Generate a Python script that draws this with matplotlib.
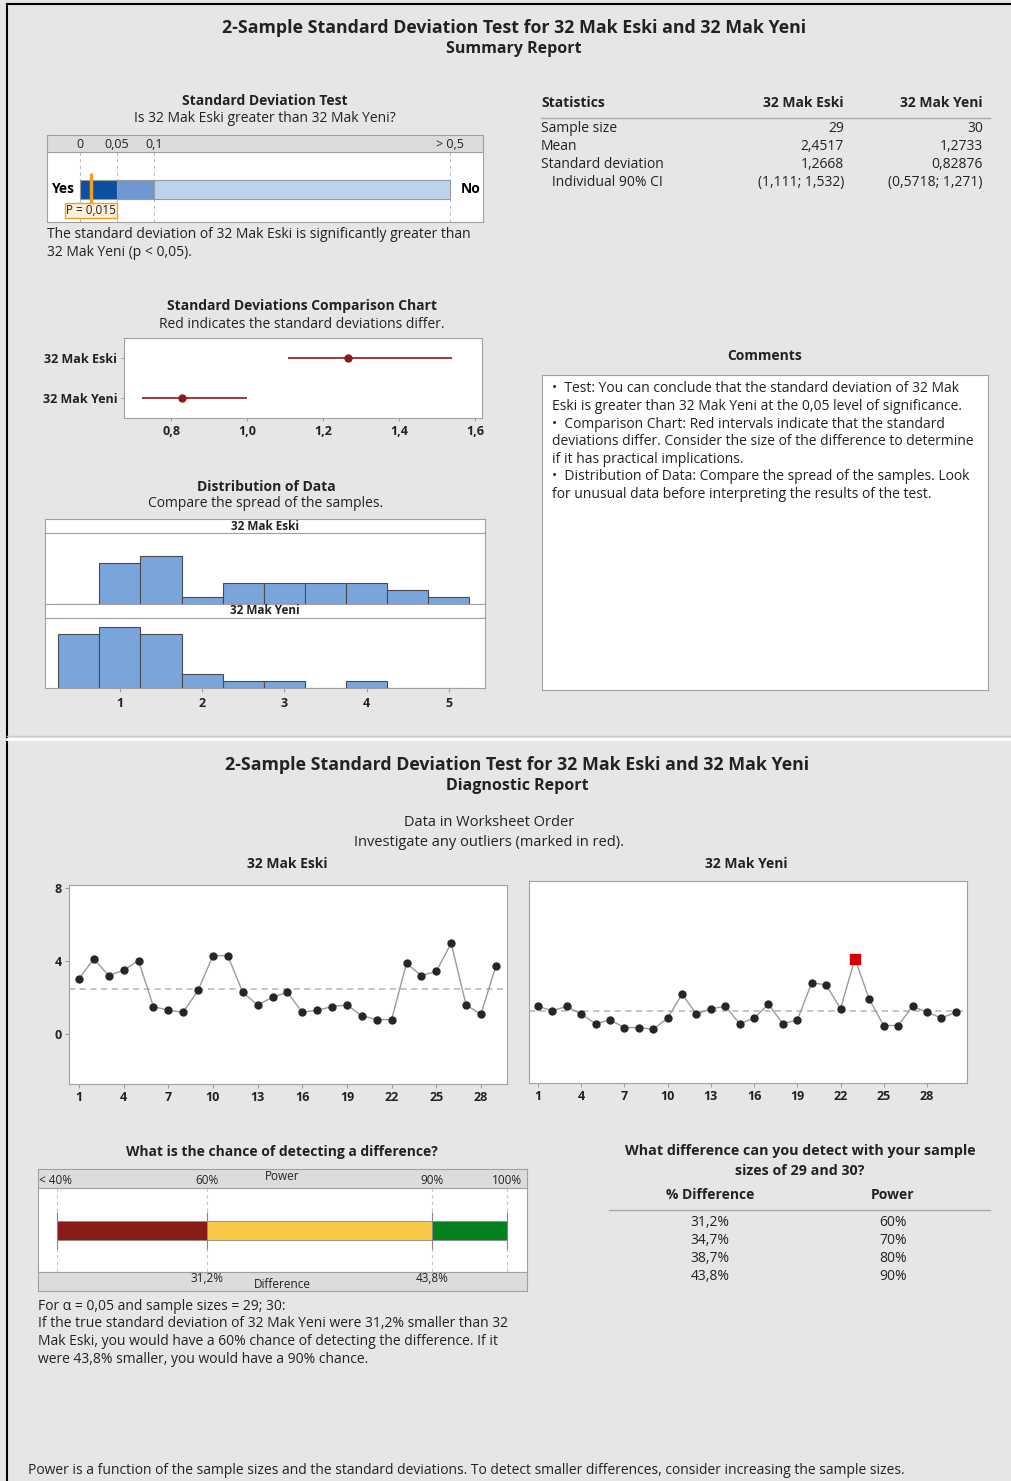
import numpy as np
import matplotlib.pyplot as plt
from matplotlib.ticker import FuncFormatter

plt.rcParams['font.family'] = ['Open Sans', 'DejaVu Sans']
plt.rcParams['axes.unicode_minus'] = False

# --- data -------------------------------------------------------------
eski = [3.03, 4.11, 3.20, 3.49, 4.02, 1.50, 1.30, 1.19, 2.39, 4.29,
        4.29, 2.28, 1.59, 2.01, 2.28, 1.19, 1.30, 1.50, 1.59, 1.00,
        0.79, 0.79, 3.87, 3.20, 3.43, 4.97, 1.59, 1.08, 3.71]
yeni = [1.53, 1.29, 1.53, 1.10, 0.58, 0.78, 0.37, 0.37, 0.27, 0.89,
        2.20, 1.10, 1.40, 1.53, 0.58, 0.89, 1.64, 0.58, 0.78, 2.82,
        2.71, 1.40, 4.14, 1.91, 0.48, 0.48, 1.53, 1.21, 0.89, 1.21]
yeni_outliers = [23]          # observation numbers flagged in red

groups = ['32 Mak Eski', '32 Mak Yeni']
means = [2.4517, 1.2733]
sd_est = [1.2668, 0.82876]
sd_low = [1.108, 0.724]       # comparison intervals
sd_high = [1.539, 1.000]
p_value = 0.015

stat_rows = ['Sample size', 'Mean', 'Standard deviation', '   Individual 90% CI']
stat_eski = ['29', '2,4517', '1,2668', '(1,111; 1,532)']
stat_yeni = ['30', '1,2733', '0,82876', '(0,5718; 1,271)']

power_pct = [60, 70, 80, 90]
diff_pct = [31.2, 34.7, 38.7, 43.8]

W, H = 1011, 1481
BG = '#e6e6e6'
TXT = '#222222'
DARKRED = '#8b1a1a'
BODY = 10

fig = plt.figure(figsize=(W / 100, H / 100), dpi=100, facecolor=BG)


def fx(x):
    return x / W


def fy(y):
    return 1 - y / H


def txt(x, y, s, size=BODY, weight='normal', ha='center', va='center', color=TXT, **kw):
    return fig.text(fx(x), fy(y), s, fontsize=size, fontweight=weight,
                    ha=ha, va=va, color=color, **kw)


def add_ax(x0, y0, x1, y1):
    ax = fig.add_axes([x0 / W, 1 - y1 / H, (x1 - x0) / W, (y1 - y0) / H])
    for s in ax.spines.values():
        s.set_color('#a0a0a0')
    return ax


def comma(v, pos=None):
    return f'{v:g}'.replace('.', ',')


def pct(v):
    return f'{v:.1f}%'.replace('.', ',')


def bold_ticks(ax):
    for t in ax.get_xticklabels() + ax.get_yticklabels():
        t.set_fontweight('bold')


# frame lines and separator between the two reports
fig.add_artist(plt.Line2D([fx(7), fx(7)], [fy(4), 0], color='black', lw=1.5))
fig.add_artist(plt.Line2D([fx(7), 1], [fy(4), fy(4)], color='black', lw=1.5))
fig.add_artist(plt.Line2D([fx(7), 1], [fy(736), fy(736)], color='#c8c8c8', lw=1))
fig.add_artist(plt.Line2D([fx(7), 1], [fy(738.5), fy(738.5)], color='white', lw=2))

# ====================== SUMMARY REPORT ==================================
title = '2-Sample Standard Deviation Test for 32 Mak Eski and 32 Mak Yeni'
txt(514, 28, title, size=12.8, weight='bold')
txt(514, 49, 'Summary Report', size=11.5, weight='bold')

# --- standard deviation test bar
txt(265, 101, 'Standard Deviation Test', weight='bold')
txt(265, 118, 'Is 32 Mak Eski greater than 32 Mak Yeni?')
ax = add_ax(47, 135, 483, 222)
ax.set_xlim(-0.0446, 0.5446)
ax.set_ylim(87, 0)
ax.axhspan(0, 17, color='#dcdcdc', zorder=0)
ax.axhline(17, color='#a0a0a0', lw=0.8)
seg_edges = [0, 0.05, 0.1, 0.5]
seg_colors = ['#0b4f9e', '#6f98d2', '#bcd3ee']
for a, b, c in zip(seg_edges[:-1], seg_edges[1:], seg_colors):
    ax.barh(54, b - a, left=a, height=19, color=c, edgecolor='#9a9a9a', lw=0.8, zorder=2)
ax.vlines(seg_edges, 17, 87, colors='#bbbbbb', linestyles=(0, (3, 3)), lw=0.8, zorder=1)
for v, lab in zip(seg_edges, ['0', '0,05', '0,1', '> 0,5']):
    ax.text(v, 9, lab, ha='center', va='center', fontsize=9, color=TXT)
ax.text(-0.024, 54, 'Yes', ha='center', va='center', fontsize=BODY, weight='bold')
ax.text(0.528, 54, 'No', ha='center', va='center', fontsize=BODY, weight='bold')
ax.vlines(p_value, 38, 74, color='#f0a020', lw=2.5, zorder=3)
ax.text(p_value, 75.5, 'P = ' + comma(p_value), ha='center', va='center', fontsize=8.5,
        color=TXT, zorder=4,
        bbox=dict(boxstyle='square,pad=0.12', facecolor='#fdf1dc', edgecolor='#f0a020', lw=1))
ax.set_xticks([])
ax.set_yticks([])
txt(47, 235, 'The standard deviation of 32 Mak Eski is significantly greater than', ha='left')
txt(47, 252, '32 Mak Yeni (p < 0,05).', ha='left')

# --- statistics table
txt(541, 103, 'Statistics', weight='bold', ha='left')
txt(844, 103, groups[0], weight='bold', ha='right')
txt(983, 103, groups[1], weight='bold', ha='right')
fig.add_artist(plt.Line2D([fx(541), fx(990)], [fy(118), fy(118)], color='#a8a8a8', lw=1))
for i, (r, e, y_) in enumerate(zip(stat_rows, stat_eski, stat_yeni)):
    yy = 129 + i * 17.8
    txt(541, yy, r, ha='left')
    txt(844, yy, e, ha='right')
    txt(983, yy, y_, ha='right')

# --- comparison chart
txt(302, 306, 'Standard Deviations Comparison Chart', weight='bold')
txt(302, 324, 'Red indicates the standard deviations differ.')
ax = add_ax(124, 338, 482, 418)
ypos = [1, 0]
ax.hlines(ypos, sd_low, sd_high, color=DARKRED, lw=1.2)
ax.plot(sd_est, ypos, 'o', color=DARKRED, ms=5)
ax.set_xlim(0.6763, 1.6184)
ax.set_ylim(-0.5, 1.5)
ax.set_xticks([0.8, 1.0, 1.2, 1.4, 1.6])
ax.xaxis.set_major_formatter(FuncFormatter(lambda v, p: f'{v:.1f}'.replace('.', ',')))
ax.set_yticks(ypos)
ax.set_yticklabels(groups)
ax.tick_params(length=2, color='#a0a0a0', labelsize=9, labelcolor=TXT, pad=3)
bold_ticks(ax)

# --- distribution of data
txt(266, 487, 'Distribution of Data', weight='bold')
txt(266, 504, 'Compare the spread of the samples.')
bins = np.arange(0.25, 5.26, 0.5)
panels = [(eski, 519, 533, 604), (yeni, 604, 618, 688)]
for (data, s0, p0, p1), name in zip(panels, groups):
    sx = add_ax(45, s0, 485, p0)
    sx.set_xticks([])
    sx.set_yticks([])
    sx.text(0.5, 0.5, name, transform=sx.transAxes, ha='center', va='center',
            fontsize=8.5, weight='bold', color=TXT)
    hx = add_ax(45, p0, 485, p1)
    hx.hist(data, bins=bins, color='#79a5dc', edgecolor='#4a4a4a', lw=0.8)
    hx.set_xlim(0.089, 5.44)
    hx.set_ylim(0, 10.3)
    hx.set_yticks([])
    if name == groups[1]:
        hx.set_xticks([1, 2, 3, 4, 5])
        hx.tick_params(axis='x', length=3, color='#a0a0a0', labelsize=9, labelcolor=TXT)
        bold_ticks(hx)
    else:
        hx.set_xticks([])

# --- comments
txt(765, 356, 'Comments', weight='bold')
cx = add_ax(542, 375, 988, 690)
cx.set_xticks([])
cx.set_yticks([])
comment_lines = [
    '•  Test: You can conclude that the standard deviation of 32 Mak',
    'Eski is greater than 32 Mak Yeni at the 0,05 level of significance.',
    '•  Comparison Chart: Red intervals indicate that the standard',
    'deviations differ. Consider the size of the difference to determine',
    'if it has practical implications.',
    '•  Distribution of Data: Compare the spread of the samples. Look',
    'for unusual data before interpreting the results of the test.',
]
for i, line in enumerate(comment_lines):
    txt(552, 389 + i * 17.6, line, ha='left')

# ====================== DIAGNOSTIC REPORT ===============================
txt(517, 765, title, size=12.8, weight='bold')
txt(517, 786, 'Diagnostic Report', size=11.5, weight='bold')
txt(489, 823, 'Data in Worksheet Order', size=10.5)
txt(489, 842, 'Investigate any outliers (marked in red).', size=10.5)
txt(287, 864, groups[0], weight='bold')
txt(746, 864, groups[1], weight='bold')

order_axes = [
    (eski, means[0], [], (69, 885, 507, 1084), (0.33, 29.75), (-2.74, 8.16), True),
    (yeni, means[1], yeni_outliers, (529, 881, 967, 1083), (0.375, 30.78), (-2.67, 8.4), False),
]
for data, m, outl, box, xl, yl, show_y in order_axes:
    ax = add_ax(*box)
    obs = np.arange(1, len(data) + 1)
    vals = np.array(data)
    ax.plot(obs, vals, color='#9a9a9a', lw=1.0, zorder=1)
    keep = ~np.isin(obs, outl)
    ax.plot(obs[keep], vals[keep], 'o', color='#262626', ms=5, zorder=2)
    if outl:
        sel = np.isin(obs, outl)
        ax.plot(obs[sel], vals[sel], 's', color='#d40000', ms=6.5, zorder=3)
    ax.axhline(m, color='#b4b4b4', ls=(0, (4, 3)), lw=1.1, zorder=0)
    ax.set_xlim(*xl)
    ax.set_ylim(*yl)
    ax.set_xticks(np.arange(1, 29, 3))
    if show_y:
        ax.set_yticks([0, 4, 8])
    else:
        ax.set_yticks([])
    ax.tick_params(length=3, color='#a0a0a0', labelsize=9, labelcolor=TXT, pad=2)
    bold_ticks(ax)

# --- power bar
txt(282, 1152, 'What is the chance of detecting a difference?', weight='bold')
ax = add_ax(38, 1169, 527, 1291)
ax.set_xlim(37.47, 102.67)
ax.set_ylim(122, 0)
ax.axhspan(0, 19, color='#dcdcdc', zorder=0)
ax.axhspan(103, 122, color='#dcdcdc', zorder=0)
ax.axhline(19, color='#a0a0a0', lw=0.8)
ax.axhline(103, color='#a0a0a0', lw=0.8)
power_edges = [40, 60, 90, 100]
power_colors = [DARKRED, '#f9c846', '#06811f']
for a, b, c in zip(power_edges[:-1], power_edges[1:], power_colors):
    ax.barh(61.5, b - a, left=a, height=19, color=c, edgecolor='#8a8a8a', lw=0.6, zorder=2)
ax.vlines(power_edges, 19, 103, colors='#c4c4c4', linestyles=(0, (3, 3)), lw=0.8, zorder=1)
ax.vlines(power_edges, 43, 80, colors='#8a8a8a', lw=0.8, zorder=1)
for v, lab in zip(power_edges, ['< 40%', '60%', '90%', '100%']):
    if v == power_edges[0]:
        ax.text(37.6, 11, lab, ha='left', va='center', fontsize=8.5, color=TXT)
    else:
        ax.text(v, 11, lab, ha='center', va='center', fontsize=8.5, color=TXT)
ax.text(70, 7.5, 'Power', ha='center', va='center', fontsize=8.5, color=TXT)
ax.text(power_pct[0], 110, pct(diff_pct[0]), ha='center', va='center', fontsize=8.5, color=TXT)
ax.text(power_pct[-1], 110, pct(diff_pct[-1]), ha='center', va='center', fontsize=8.5, color=TXT)
ax.text(70, 116, 'Difference', ha='center', va='center', fontsize=8.5, color=TXT)
ax.set_xticks([])
ax.set_yticks([])

power_text = [
    'For α = 0,05 and sample sizes = 29; 30:',
    f'If the true standard deviation of 32 Mak Yeni were {pct(diff_pct[0])} smaller than 32',
    f'Mak Eski, you would have a {power_pct[0]}% chance of detecting the difference. If it',
    f'were {pct(diff_pct[-1])} smaller, you would have a {power_pct[-1]}% chance.',
]
for i, line in enumerate(power_text):
    txt(38, 1306 + i * 17.8, line, ha='left')

# --- detectable difference table
txt(800, 1151, 'What difference can you detect with your sample', size=10.3, weight='bold')
txt(800, 1171, 'sizes of 29 and 30?', size=10.3, weight='bold')
txt(710, 1195, '% Difference', weight='bold')
txt(893, 1195, 'Power', weight='bold')
fig.add_artist(plt.Line2D([fx(609), fx(990)], [fy(1210), fy(1210)], color='#a8a8a8', lw=1))
for i, (d, p) in enumerate(zip(diff_pct, power_pct)):
    yy = 1222 + i * 18
    txt(710, yy, pct(d))
    txt(893, yy, f'{p}%')

txt(28, 1470, 'Power is a function of the sample sizes and the standard deviations. '
    'To detect smaller differences, consider increasing the sample sizes.', ha='left')

fig.savefig('out.png', dpi=100, facecolor=BG)
